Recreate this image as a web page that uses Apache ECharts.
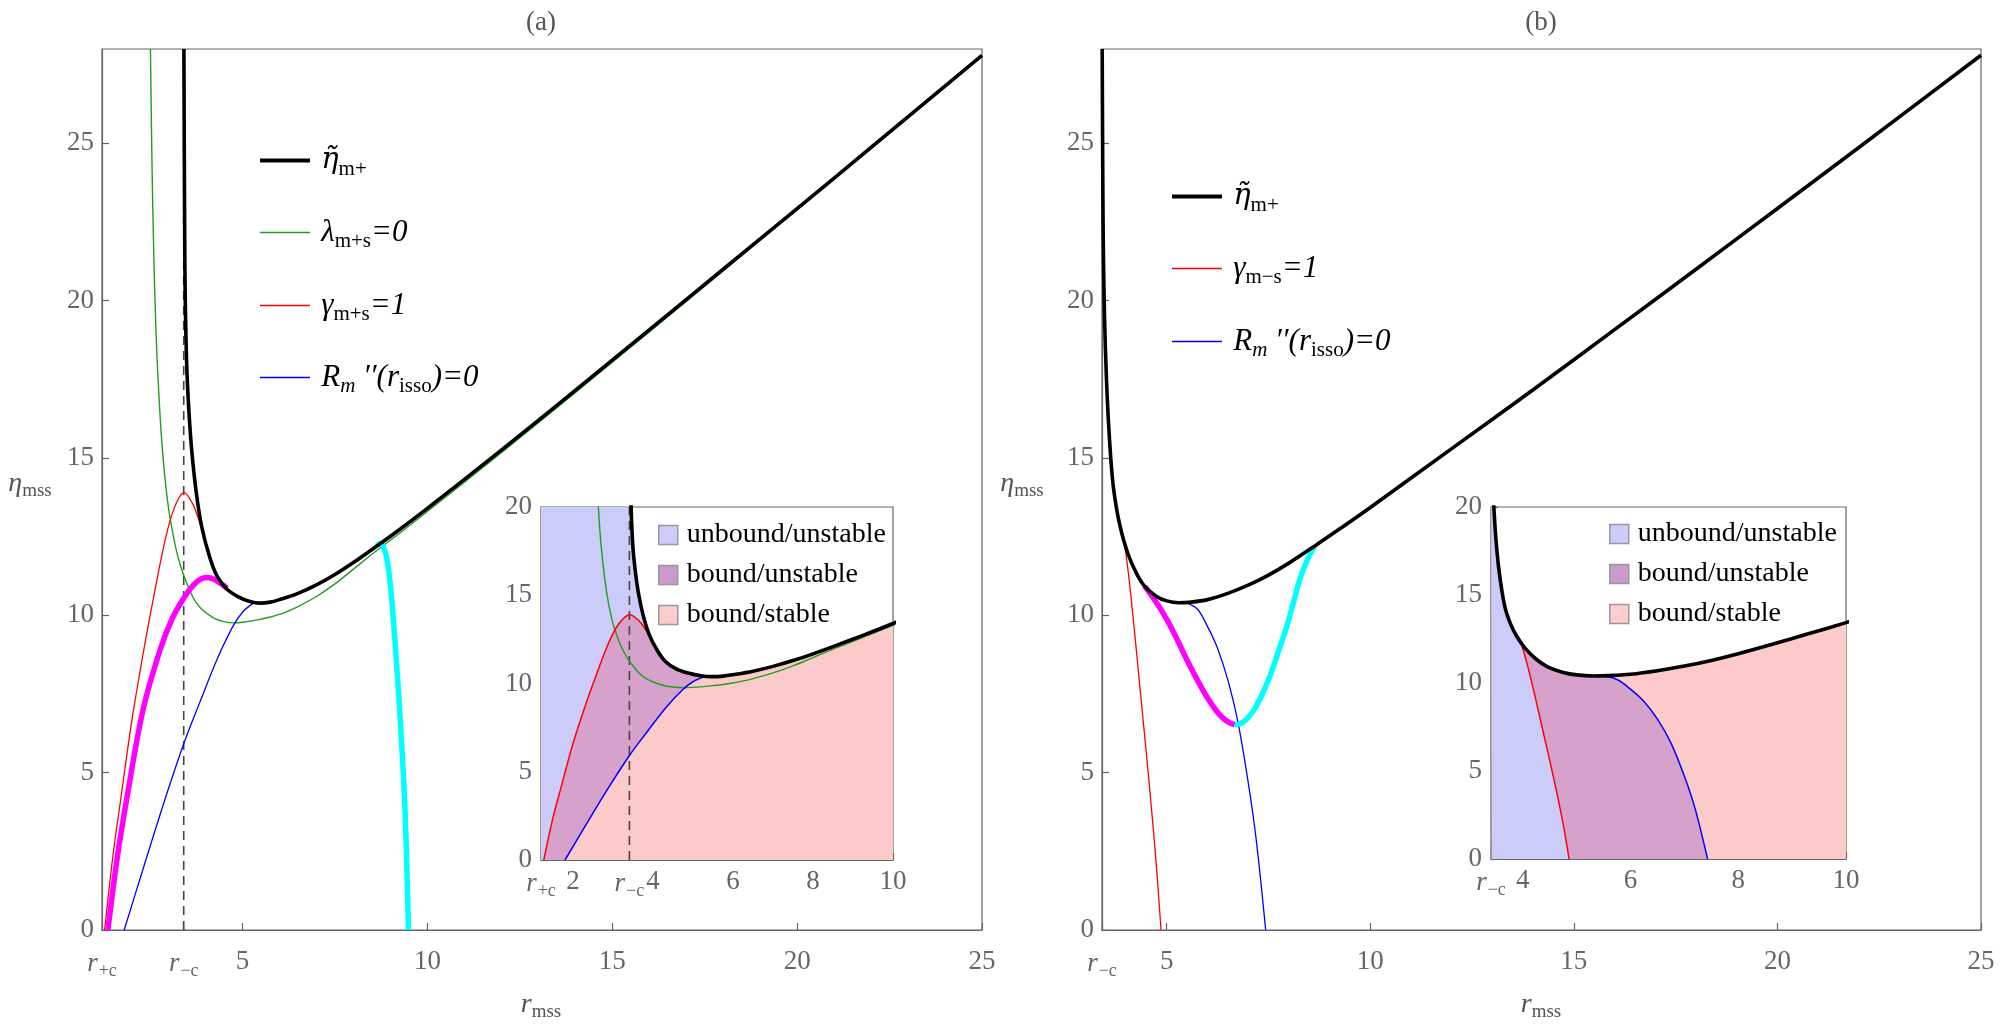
<!DOCTYPE html>
<html>
<head>
<meta charset="utf-8">
<script src="https://cdn.jsdelivr.net/npm/echarts@6/dist/echarts.min.js"></script>
<style>
  html, body { margin: 0; padding: 0; background: #fff; }
  #chart { width: 2000px; height: 1024px; }
</style>
</head>
<body>
<div id="chart"></div>
<script>
// special radii on the x axes
var rPlusC = 1.2;
var rMinusC = 3.41;

// panel (a) curves, [r, eta]
var etaA = [[3.415,28],[3.425,25],[3.437,22],[3.45,20.2],[3.49,18],[3.55,16.5],[3.63,15.2],[3.75,13.9],[3.9,12.8],[4.1,11.9],[4.31,11.25],[4.58,10.83],[4.9,10.58],[5.2,10.44],[5.47,10.39],[5.75,10.42],[6.0,10.5],[6.5,10.7],[7.0,10.97],[7.5,11.3],[8.0,11.68],[8.63,12.2],[9.25,12.73],[10,13.4],[12,15.25],[14,17.15],[16,19.07],[18,21.0],[20,22.93],[22,24.87],[25,27.8]];
var lambdaA = [[2.51,28],[2.55,24.5],[2.6,21.5],[2.65,19.4],[2.7,17.9],[2.8,15.8],[2.9,14.4],[3.0,13.4],[3.1,12.7],[3.2,12.12],[3.3,11.67],[3.42,11.24],[3.65,10.6],[3.85,10.25],[4.2,9.93],[4.5,9.8],[4.75,9.76],[5.0,9.78],[5.5,9.88],[6.0,10.03],[6.5,10.28],[7.0,10.6],[7.5,11.0],[8.0,11.47],[8.63,12.06],[9.25,12.61],[10,13.3],[12,15.17],[14,17.08],[16,19.01],[18,20.95],[20,22.89],[22,24.83],[25,27.77]];
var gammaA = [[1.27,0],[1.5,2.4],[1.7,4.1],[2.0,6.6],[2.3,8.7],[2.6,10.6],[2.9,12.35],[3.15,13.4],[3.42,13.9],[3.65,13.55],[3.8,13.1],[3.93,12.64]];
var rIssoA = [[1.8,0],[2.3,1.9],[2.9,4.14],[3.42,5.95],[3.85,7.25],[4.31,8.6],[4.74,9.65],[5.0,10.1],[5.28,10.38]];
var magentaA = [[1.36,0],[1.6,2.2],[1.88,4.24],[2.31,7.0],[2.77,8.9],[3.1,9.9],[3.44,10.6],[3.75,11.05],[4.04,11.2],[4.3,11.1],[4.58,10.86]];
var cyanA = [[8.63,12.2],[8.72,12.29],[8.82,12.15],[8.92,11.7],[9.01,10.83],[9.14,8.92],[9.26,6.8],[9.38,4.24],[9.44,2.2],[9.49,0]];

// panel (b) curves
var etaB = [[3.415,28],[3.425,25],[3.44,22],[3.47,19.6],[3.52,17.5],[3.58,15.9],[3.67,14.3],[3.78,13.3],[3.89,12.64],[4.05,11.95],[4.25,11.35],[4.46,10.92],[4.75,10.6],[5.0,10.46],[5.3,10.4],[5.6,10.42],[6.0,10.5],[6.5,10.7],[7.0,10.96],[7.5,11.28],[8.0,11.66],[8.63,12.2],[9.25,12.75],[10,13.43],[12,15.3],[14,17.17],[16,19.08],[18,21.0],[20,22.93],[22,24.87],[25,27.8]];
var gammaB = [[3.89,12.64],[3.97,12.2],[4.07,11.2],[4.2,9.6],[4.35,7.6],[4.5,5.6],[4.65,3.5],[4.76,1.8],[4.86,0]];
var rIssoB = [[5.45,10.41],[5.75,10.2],[6.0,9.65],[6.25,8.95],[6.5,7.95],[6.75,6.6],[7.0,4.7],[7.2,2.85],[7.43,0]];
var magentaB = [[4.46,10.92],[4.75,10.4],[5.0,9.87],[5.25,9.25],[5.49,8.6],[5.75,7.95],[5.98,7.42],[6.2,7.0],[6.37,6.75],[6.55,6.58],[6.67,6.53]];
var cyanB = [[6.67,6.53],[6.8,6.55],[6.96,6.7],[7.12,6.95],[7.28,7.32],[7.45,7.8],[7.6,8.3],[7.78,9.0],[7.95,9.65],[8.1,10.35],[8.27,11.15],[8.45,11.75],[8.63,12.2]];

// tick values
var xTicksA = [rPlusC, rMinusC, 5, 10, 15, 20, 25];
var xTicksInsetA = [rPlusC, 2, rMinusC, 4, 6, 8, 10];
var xTicksB = [rMinusC, 5, 10, 15, 20, 25];
var xTicksInsetB = [rMinusC, 4, 6, 8, 10];
var yTicksMain = [0, 5, 10, 15, 20, 25];
var yTicksInset = [0, 5, 10, 15, 20];

var regionNames = ['unbound/unstable', 'bound/unstable', 'bound/stable'];
var regionColors = ['#ccccfb', '#d6a2cc', '#fdcaca'];
var regionSwatch = ['#ccccff', '#cc99cc', '#ffcccc'];

var FONT = '"Liberation Serif", "DejaVu Serif", serif';
var GREY = '#666';

(function (window, echarts) {
    var chart = echarts.init(document.getElementById('chart'));

    function near(a, b) { return Math.abs(a - b) < 1e-6; }

    // tick labels, the two radii get a subscript
    function tickFmt(v) {
        if (near(v, rPlusC)) return '{r|r}{s|+c}';
        if (near(v, rMinusC)) return '{r|r}{s|\u2212c}';
        return String(v);
    }

    var tickRich = {
        r: { fontFamily: FONT, fontStyle: 'italic', fontSize: 27, color: GREY },
        s: { fontFamily: FONT, fontSize: 18, color: GREY, padding: [14, 0, 0, 1] }
    };

    function axis(grid, min, max, ticks, margin) {
        return {
            type: 'value', gridIndex: grid, min: min, max: max,
            axisLine: { show: true, lineStyle: { color: GREY, width: 1.2 } },
            axisTick: { show: true, inside: true, length: 7, customValues: ticks, lineStyle: { color: GREY, width: 1.2 } },
            axisLabel: {
                customValues: ticks, formatter: tickFmt, margin: margin, hideOverlap: false,
                color: GREY, fontFamily: FONT, fontSize: 27, rich: tickRich
            },
            splitLine: { show: false }
        };
    }

    function line(name, data, idx, color, width, z) {
        return {
            type: 'line', name: name, data: data, xAxisIndex: idx, yAxisIndex: idx,
            symbol: 'none', showSymbol: false, smooth: 0.35, silent: true, z: z,
            lineStyle: { color: color, width: width }, itemStyle: { color: color }
        };
    }

    function dashed(idx, top) {
        var s = line('dash' + idx, [[rMinusC, 0], [rMinusC, top]], idx, '#444', 1.6, 2);
        s.smooth = false;
        s.lineStyle.type = [9, 6];
        return s;
    }

    function fill(name, data, idx, k) {
        var s = line(name, data, idx, regionColors[k], 0, 1);
        s.areaStyle = { color: regionColors[k], opacity: 1 };
        s.itemStyle = { color: regionSwatch[k] };
        return s;
    }

    function after(arr, x) { return arr.filter(function (p) { return p[0] > x; }); }
    function before(arr, x) { return arr.filter(function (p) { return p[0] < x; }); }

    // regions of the insets, built from the curves
    var blueA = [[rPlusC, 28]].concat(etaA);
    var purpleA = gammaA.concat(after(etaA, 3.93));
    var pinkA = rIssoA.concat(after(etaA, 5.28));
    var pinkB = etaB;
    var purpleB = before(etaB, 5.45).concat(rIssoB);
    var blueB = before(etaB, 3.89).concat(gammaB);

    var series = [
        // (a) main
        dashed(0, 28),
        line('lam', lambdaA, 0, '#1f9f1f', 1.4, 3),
        line('gam', gammaA, 0, '#ff0000', 1.3, 3),
        line('rdd', rIssoA, 0, '#0000ff', 1.3, 3),
        line('mag', magentaA, 0, '#ff00ff', 5.5, 4),
        line('cyan', cyanA, 0, '#00ffff', 5.5, 4),
        line('eta', etaA, 0, '#000', 3.6, 5),
        // (a) inset
        fill(regionNames[0], blueA, 1, 0),
        fill(regionNames[1], purpleA, 1, 1),
        fill(regionNames[2], pinkA, 1, 2),
        dashed(1, 20),
        line('lam', lambdaA, 1, '#1f9f1f', 1.4, 3),
        line('gam', gammaA, 1, '#ff0000', 1.5, 3),
        line('rdd', rIssoA, 1, '#0000ff', 1.5, 3),
        line('eta', etaA, 1, '#000', 3.6, 5),
        // (b) main
        line('gamB', gammaB, 2, '#ff0000', 1.3, 3),
        line('rddB', rIssoB, 2, '#0000ff', 1.3, 3),
        line('magB', magentaB, 2, '#ff00ff', 5.5, 4),
        line('cyanB', cyanB, 2, '#00ffff', 5.5, 4),
        line('etaB', etaB, 2, '#000', 3.6, 5),
        // (b) inset
        fill(regionNames[2], pinkB, 3, 2),
        fill(regionNames[1], purpleB, 3, 1),
        fill(regionNames[0], blueB, 3, 0),
        line('gamB', gammaB, 3, '#ff0000', 1.5, 3),
        line('rddB', rIssoB, 3, '#0000ff', 1.5, 3),
        line('etaB', etaB, 3, '#000', 3.6, 5)
    ];

    var labels = {
        eta: '{e|\u03B7\u0303}{s|m+}',
        lam: '{i|\u03BB}{s|m+s}{i|=0}',
        gam: '{i|\u03B3}{s|m+s}{i|=1}',
        rdd: '{i|R}{si|m}{i| \u2032\u2032(r}{s|isso}{i|)=0}',
        etaB: '{e|\u03B7\u0303}{s|m+}',
        gamB: '{i|\u03B3}{s|m\u2212s}{i|=1}',
        rddB: '{i|R}{si|m}{i| \u2032\u2032(r}{s|isso}{i|)=0}'
    };
    var iconHeight = { eta: 4, etaB: 4 };

    var legRich = {
        e: { fontFamily: '"DejaVu Serif", serif', fontStyle: 'italic', fontSize: 29, color: '#000' },
        i: { fontFamily: FONT, fontStyle: 'italic', fontSize: 31, color: '#000' },
        s: { fontFamily: FONT, fontSize: 21, color: '#000', padding: [17, 0, 0, 0] },
        si: { fontFamily: FONT, fontStyle: 'italic', fontSize: 21, color: '#000', padding: [17, 0, 0, 0] }
    };

    function lineLegend(name, left, cy) {
        return {
            show: true, selectedMode: false, left: left, top: cy - 21,
            itemWidth: 50, itemHeight: iconHeight[name] || 1.5, data: [{ name: name, icon: 'rect' }],
            formatter: function (n) { return '{i|\u2009}' + labels[n]; },
            textStyle: { fontFamily: FONT, fontSize: 31, color: '#000', rich: legRich }
        };
    }

    function boxLegend(k, left, cy) {
        return {
            show: true, selectedMode: false, left: left, top: cy - 12,
            itemWidth: 19, itemHeight: 19, data: [{
                name: regionNames[k], icon: 'rect',
                itemStyle: { color: regionSwatch[k], borderColor: '#999', borderWidth: 1.5 }
            }],
            textStyle: { fontFamily: FONT, fontSize: 28, color: '#000', padding: [0, 0, 0, 4] }
        };
    }

    function gtext(x, y, text, rich, size) {
        return {
            type: 'text', x: x, y: y, silent: true,
            style: {
                text: text, rich: rich, fontFamily: FONT, fontSize: size || 27, fill: '#555',
                align: 'center', verticalAlign: 'middle', textAlign: 'center', textVerticalAlign: 'middle'
            }
        };
    }

    var nameRich = {
        i: { fontFamily: FONT, fontStyle: 'italic', fontSize: 28, color: '#555' },
        s: { fontFamily: FONT, fontSize: 19, color: '#555', padding: [14, 0, 0, 0] }
    };

    chart.setOption({
        animation: false,
        backgroundColor: '#fff',
        grid: [
            { left: 102, top: 49, width: 880, height: 881, show: true, borderColor: GREY, borderWidth: 1.2, backgroundColor: '#fff' },
            { left: 541, top: 507, width: 352, height: 353, show: true, borderColor: GREY, borderWidth: 1.2, backgroundColor: '#fff' },
            { left: 1102, top: 49, width: 879, height: 881, show: true, borderColor: GREY, borderWidth: 1.2, backgroundColor: '#fff' },
            { left: 1491, top: 507, width: 355, height: 352, show: true, borderColor: GREY, borderWidth: 1.2, backgroundColor: '#fff' }
        ],
        xAxis: [
            axis(0, rPlusC, 25, xTicksA, 18),
            axis(1, rPlusC, 10, xTicksInsetA, 8),
            axis(2, rMinusC, 25, xTicksB, 18),
            axis(3, rMinusC, 10, xTicksInsetB, 8)
        ],
        yAxis: [
            axis(0, 0, 28, yTicksMain, 8),
            axis(1, 0, 20, yTicksInset, 9),
            axis(2, 0, 28, yTicksMain, 8),
            axis(3, 0, 20, yTicksInset, 9)
        ],
        legend: [
            lineLegend('eta', 255, 161),
            lineLegend('lam', 255, 233),
            lineLegend('gam', 255, 306),
            lineLegend('rdd', 255, 378),
            lineLegend('etaB', 1167, 197),
            lineLegend('gamB', 1167, 269),
            lineLegend('rddB', 1167, 342),
            boxLegend(0, 653, 528),
            boxLegend(1, 653, 568),
            boxLegend(2, 653, 608),
            boxLegend(0, 1604, 527),
            boxLegend(1, 1604, 567),
            boxLegend(2, 1604, 607)
        ],
        graphic: [
            gtext(541, 23, '(a)'),
            gtext(1541, 23, '(b)'),
            gtext(541, 1005, '{i|r}{s|mss}', nameRich),
            gtext(1541, 1005, '{i|r}{s|mss}', nameRich),
            gtext(30, 484, '{i|\u03B7}{s|mss}', nameRich),
            gtext(1022, 484, '{i|\u03B7}{s|mss}', nameRich)
        ],
        series: series
    });
})(window, echarts);
</script>
</body>
</html>
